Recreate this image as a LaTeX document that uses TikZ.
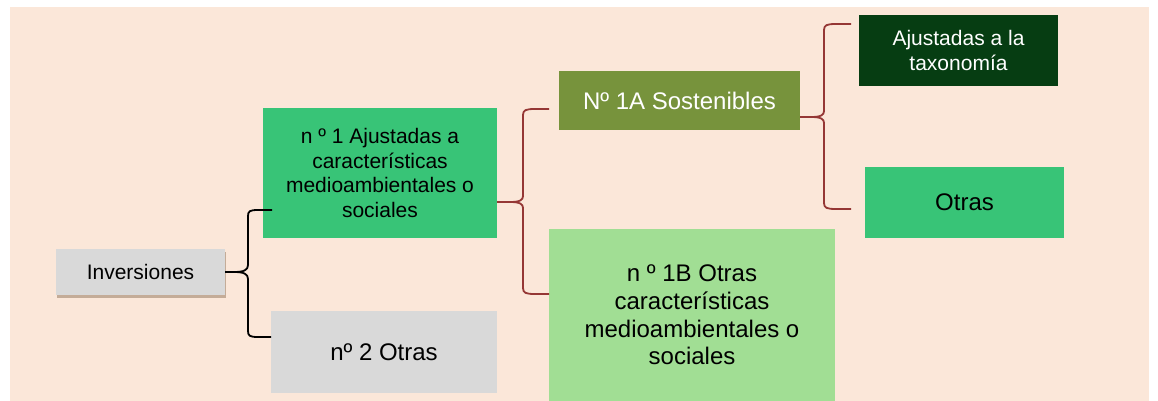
\documentclass[tikz,border=0pt]{standalone}
\usepackage{fontspec}
\setmainfont{Liberation Sans}
\usetikzlibrary{shadows,calc}
\definecolor{bgpeach}{HTML}{FBE7D9}
\definecolor{boxgray}{HTML}{D9D9D9}
\definecolor{midgreen}{HTML}{38C477}
\definecolor{olivegreen}{HTML}{77933C}
\definecolor{darkgreen}{HTML}{063D12}
\definecolor{lightgreen}{HTML}{A1DE94}
\definecolor{bracered}{HTML}{953735}
\tikzset{
  box/.style={rectangle, inner sep=0pt, align=center, anchor=center},
  fsmall/.style={font=\fontsize{21}{24.5}\selectfont},
  fbig/.style={font=\fontsize{24}{27.7}\selectfont},
  blackbrace/.style={draw=black, line width=1.8pt, line join=round},
  redbrace/.style={draw=bracered, line width=1.8pt, line join=round},
}
\begin{document}
\begin{tikzpicture}[x=1pt,y=-1pt]
\useasboundingbox (0,0) rectangle (1158,401);
\fill[bgpeach] (10,7) rectangle (1149,401);

% nodes
\node[box, fsmall, fill=boxgray, minimum width=169pt, minimum height=46pt,
  drop shadow={shadow xshift=0.5pt, shadow yshift=-2.5pt, fill=black!50!brown, opacity=0.35}]
  (inv) at (140.5,272) {Inversiones};
\node[box, fsmall, fill=midgreen, minimum width=234pt, minimum height=130pt]
  (n1) at (380,173) {n º 1 Ajustadas a\\características\\medioambientales o\\sociales};
\node[box, fbig, fill=boxgray, minimum width=226pt, minimum height=82pt]
  (n2) at (384,352) {nº 2 Otras};
\node[box, fbig, fill=olivegreen, text=white, minimum width=241pt, minimum height=59pt]
  (n1a) at (679.5,100.5) {Nº 1A Sostenibles};
\node[box, fbig, fill=lightgreen, minimum width=286pt, minimum height=172pt]
  (n1b) at (692,315) {n º 1B Otras\\características\\medioambientales o\\sociales};
\node[box, fsmall, fill=darkgreen, text=white, minimum width=199pt, minimum height=71pt]
  (ajt) at (958.5,50.5) {Ajustadas a la\\taxonomía};
\node[box, fbig, fill=midgreen, minimum width=199pt, minimum height=71pt]
  (otr) at (964.5,202.5) {Otras};

% brace end points
\coordinate (b1t) at (272,210);
\coordinate (b1b) at (271,337);
\coordinate (r1s) at (497,202);
\coordinate (r1t) at (549,109);
\coordinate (r1b) at (549,294);
\coordinate (r2s) at (800,117);
\coordinate (r2t) at (851,24);
\coordinate (r2b) at (851,209);

% black brace
\draw[blackbrace] (inv.east) -- (234,272)
  .. controls (244,272) and (248,270) .. (248,265) -- (248,216)
  .. controls (248,211) and (250,210) .. (258,210) -- (b1t);
\draw[blackbrace] (234,272)
  .. controls (244,272) and (248,274) .. (248,279) -- (248,331)
  .. controls (248,336) and (250,337) .. (258,337) -- (b1b);

% red brace 1
\draw[redbrace] (r1s) -- (510,202)
  .. controls (520,202) and (523,200) .. (523,196) -- (523,115)
  .. controls (523,110) and (526,109) .. (535,109) -- (r1t);
\draw[redbrace] (510,202)
  .. controls (520,202) and (523,204) .. (523,208) -- (523,288)
  .. controls (523,293) and (526,294) .. (535,294) -- (r1b);

% red brace 2
\draw[redbrace] (r2s) -- (811,117)
  .. controls (821,117) and (824,115) .. (824,111) -- (824,30)
  .. controls (824,25) and (827,24) .. (836,24) -- (r2t);
\draw[redbrace] (811,117)
  .. controls (821,117) and (824,119) .. (824,123) -- (824,203)
  .. controls (824,208) and (827,209) .. (836,209) -- (r2b);
\end{tikzpicture}
\end{document}
